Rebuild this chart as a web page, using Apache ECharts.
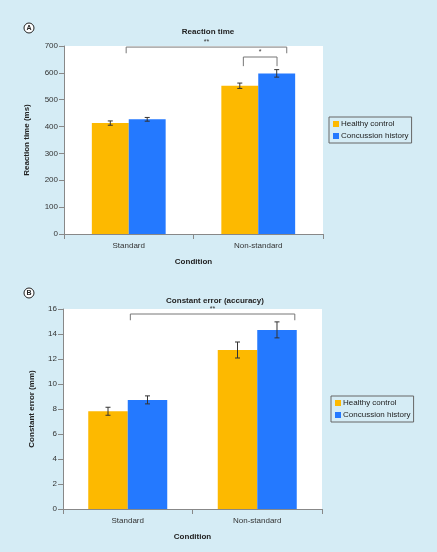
<!DOCTYPE html>
<html><head><meta charset="utf-8">
<script src="https://cdn.jsdelivr.net/npm/echarts@6/dist/echarts.min.js"></script>
<style>html,body{margin:0;padding:0;background:#d5ecf5;}#c{width:437px;height:552px;}</style>
</head><body><div id="c"></div>
<script>
const categories = ['Standard', 'Non-standard'];
const seriesNames = ['Healthy control', 'Concussion history'];
// Panel A: reaction time (ms)
const rtHealthy = [413, 552];
const rtHealthyErr = [8, 10];
const rtConcussion = [427, 598];
const rtConcussionErr = [7, 14];
// Panel B: constant error (mm)
const ceHealthy = [7.82, 12.72];
const ceHealthyErr = [0.32, 0.64];
const ceConcussion = [8.73, 14.33];
const ceConcussionErr = [0.32, 0.64];
// significance brackets: [fromCat, fromOffset, toCat, toOffset, level, drop, label]
const rtBrackets = [[0, -0.02, 1, 0.22, 696, 673, '**'], [1, -0.115, 1, 0.145, 659, 625, '*']];
const ceBrackets = [[0, 0.02, 1, 0.29, 15.6, 15.1, '**']];

const FONT = 'Liberation Sans, Arial, sans-serif';
const C_H = '#fdb900', C_C = '#2479ff';
const GAP_A = 0.43, GAP_B = 0.39;

function errSeries(gi, means, errs, side, gap) {
  return {
    type: 'custom', xAxisIndex: gi, yAxisIndex: gi, silent: true, z: 5,
    data: means.map((m, i) => [i, m, errs[i]]),
    renderItem: function (params, api) {
      const band = api.size([1, 0])[0];
      const bw = band * (1 - gap) / 2;
      const c = api.coord([api.value(0), api.value(1)]);
      const x = c[0] + side * bw / 2;
      const hi = api.coord([api.value(0), api.value(1) + api.value(2)])[1];
      const lo = api.coord([api.value(0), api.value(1) - api.value(2)])[1];
      const st = { stroke: '#333', lineWidth: 1 };
      return { type: 'group', children: [
        { type: 'line', shape: { x1: x, y1: hi, x2: x, y2: lo }, style: st },
        { type: 'line', shape: { x1: x - 2.5, y1: hi, x2: x + 2.5, y2: hi }, style: st },
        { type: 'line', shape: { x1: x - 2.5, y1: lo, x2: x + 2.5, y2: lo }, style: st }
      ]};
    }
  };
}
function bracketSeries(gi, brackets) {
  return {
    type: 'custom', xAxisIndex: gi, yAxisIndex: gi, silent: true, z: 6, clip: false,
    data: brackets.map(b => b.slice(0, 6)),
    renderItem: function (params, api) {
      const band = api.size([1, 0])[0];
      const b = brackets[params.dataIndex];
      const x1 = api.coord([b[0], 0])[0] + b[1] * band;
      const x2 = api.coord([b[2], 0])[0] + b[3] * band;
      const y = api.coord([0, b[4]])[1];
      const yd = api.coord([0, b[5]])[1];
      const st = { stroke: '#777', lineWidth: 1, fill: null };
      return { type: 'group', children: [
        { type: 'polyline', shape: { points: [[x1, yd], [x1, y], [x2, y], [x2, yd]] }, style: st },
        { type: 'text', x: (x1 + x2) / 2, y: y - 1.5, style: { text: b[6], fill: '#333', font: '7px ' + FONT, align: 'center', verticalAlign: 'bottom' } }
      ]};
    }
  };
}

const axisLine = { show: true, lineStyle: { color: '#888', width: 1 } };
const axisTick = { show: true, inside: false, length: 5, lineStyle: { color: '#888' } };
const tickLabel = { color: '#333', fontSize: 8, fontFamily: FONT };
const nameStyle = { color: '#222', fontSize: 8, fontWeight: 'bold', fontFamily: FONT };

function legendAt(left, top) {
  return { orient: 'vertical', left: left, top: top, data: seriesNames, itemWidth: 6, itemHeight: 6, itemGap: 4,
    padding: [3, 3, 3, 4], borderColor: '#666', borderWidth: 1, backgroundColor: 'transparent',
    icon: 'rect', textStyle: { color: '#222', fontSize: 8, fontFamily: FONT, padding: [0, 0, 0, -3] } };
}

const chart = echarts.init(document.getElementById('c'), null, { renderer: 'canvas' });
chart.setOption({
  backgroundColor: '#d5ecf5',
  animation: false,
  grid: [
    { left: 64, top: 46, width: 259, height: 188, show: true, backgroundColor: '#fff', borderWidth: 0 },
    { left: 63, top: 309, width: 259, height: 200, show: true, backgroundColor: '#fff', borderWidth: 0 }
  ],
  xAxis: [0, 1].map(i => ({
    type: 'category', gridIndex: i, data: categories,
    axisLine: axisLine, axisTick: axisTick,
    axisLabel: Object.assign({ margin: 8 }, tickLabel),
    name: 'Condition', nameLocation: 'middle', nameGap: 24, nameTextStyle: nameStyle,
    splitLine: { show: false }
  })),
  yAxis: [
    { type: 'value', gridIndex: 0, min: 0, max: 700, interval: 100,
      axisLine: axisLine, axisTick: axisTick, axisLabel: Object.assign({ margin: 6 }, tickLabel),
      splitLine: { show: false },
      name: 'Reaction time (ms)', nameLocation: 'middle', nameGap: 33, nameTextStyle: nameStyle },
    { type: 'value', gridIndex: 1, min: 0, max: 16, interval: 2,
      axisLine: axisLine, axisTick: axisTick, axisLabel: Object.assign({ margin: 6 }, tickLabel),
      splitLine: { show: false },
      name: 'Constant error (mm)', nameLocation: 'middle', nameGap: 27, nameTextStyle: nameStyle }
  ],
  legend: [legendAt(329, 117), legendAt(331, 396)],
  series: [
    { type: 'bar', name: seriesNames[0], xAxisIndex: 0, yAxisIndex: 0, data: rtHealthy, barGap: '0%', barCategoryGap: (GAP_A * 100) + '%', itemStyle: { color: C_H } },
    { type: 'bar', name: seriesNames[1], xAxisIndex: 0, yAxisIndex: 0, data: rtConcussion, barGap: '0%', barCategoryGap: (GAP_A * 100) + '%', itemStyle: { color: C_C } },
    { type: 'bar', name: seriesNames[0], xAxisIndex: 1, yAxisIndex: 1, data: ceHealthy, barGap: '0%', barCategoryGap: (GAP_B * 100) + '%', itemStyle: { color: C_H } },
    { type: 'bar', name: seriesNames[1], xAxisIndex: 1, yAxisIndex: 1, data: ceConcussion, barGap: '0%', barCategoryGap: (GAP_B * 100) + '%', itemStyle: { color: C_C } },
    errSeries(0, rtHealthy, rtHealthyErr, -1, GAP_A),
    errSeries(0, rtConcussion, rtConcussionErr, 1, GAP_A),
    errSeries(1, ceHealthy, ceHealthyErr, -1, GAP_B),
    errSeries(1, ceConcussion, ceConcussionErr, 1, GAP_B),
    bracketSeries(0, rtBrackets),
    bracketSeries(1, ceBrackets)
  ],
  graphic: [
    { type: 'text', x: 208, y: 32, style: { text: 'Reaction time', fill: '#222', font: 'bold 8px ' + FONT, align: 'center', verticalAlign: 'middle' } },
    { type: 'text', x: 215, y: 301, style: { text: 'Constant error (accuracy)', fill: '#222', font: 'bold 8px ' + FONT, align: 'center', verticalAlign: 'middle' } },
    { type: 'circle', shape: { cx: 29, cy: 28, r: 5 }, style: { fill: '#fff', stroke: '#222', lineWidth: 1 } },
    { type: 'text', x: 29, y: 28.5, style: { text: 'A', fill: '#222', font: 'bold 7px ' + FONT, align: 'center', verticalAlign: 'middle' } },
    { type: 'circle', shape: { cx: 29, cy: 293, r: 5 }, style: { fill: '#fff', stroke: '#222', lineWidth: 1 } },
    { type: 'text', x: 29, y: 293.5, style: { text: 'B', fill: '#222', font: 'bold 7px ' + FONT, align: 'center', verticalAlign: 'middle' } }
  ]
});
</script></body></html>
